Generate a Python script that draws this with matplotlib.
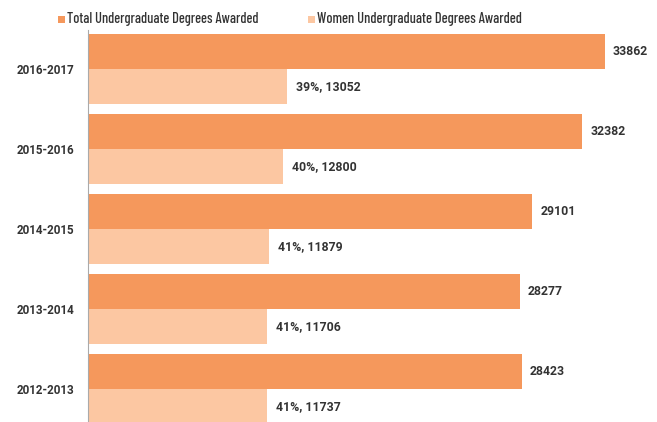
import matplotlib
matplotlib.use("Agg")
import matplotlib.pyplot as plt
from matplotlib.patches import Rectangle

years = ["2012-2013", "2013-2014", "2014-2015", "2015-2016", "2016-2017"]
total = [28423, 28277, 29101, 32382, 33862]
women = [11737, 11706, 11879, 12800, 13052]
women_pct = ["41%", "41%", "41%", "40%", "39%"]
legend_labels = ["Total Undergraduate Degrees Awarded", "Women Undergraduate Degrees Awarded"]

c_total = "#F5985C"
c_women = "#FCC7A2"
tc = "#333333"

plt.rcParams["font.family"] = ["Roboto", "Liberation Sans", "DejaVu Sans"]
leg_family = ["Barlow Condensed", "Liberation Sans", "DejaVu Sans"]

W, H = 657, 422
fig = plt.figure(figsize=(W / 100, H / 100), dpi=100)
ax = fig.add_axes([88 / W, 0, (W - 88) / W, 392 / H])
renderer = fig.canvas.get_renderer()

def fit(t, target):
    wpx = t.get_window_extent(renderer).width
    t.set_fontsize(t.get_fontsize() * target / wpx)

h = 0.4375
ys = list(range(len(years)))
ax.barh([y + h / 2 for y in ys], total, height=h, color=c_total, linewidth=0)
ax.barh([y - h / 2 for y in ys], women, height=h, color=c_women, linewidth=0)

px = 33862 / 517.0
ax.set_xlim(0, (W - 88) * px)
ax.set_ylim(-0.4125, 4.4875)

ref_a = ax.text(0, 0, "33862", fontsize=9, fontweight=600)
fit(ref_a, 35)
fs_val = ref_a.get_fontsize()
ref_a.remove()
ref_b = ax.text(0, 0, "2016-2017", fontsize=9, fontweight=600)
fit(ref_b, 58)
fs_year = ref_b.get_fontsize()
ref_b.remove()

for y, t, w, p in zip(ys, total, women, women_pct):
    ax.text(t + 8 * px, y + h / 2, f"{t}", va="center", ha="left", fontsize=fs_val, color=tc, fontweight=600)
    ax.text(w + 9 * px, y - h / 2, f"{p}, {w}", va="center", ha="left", fontsize=fs_val, color=tc, fontweight=600)

ax.set_yticks(ys)
ax.set_yticklabels(years, fontsize=fs_year, color=tc, fontweight=600)
ax.tick_params(axis="y", length=0, pad=10)
ax.set_xticks([])
for s in ["top", "right", "bottom"]:
    ax.spines[s].set_visible(False)
ax.spines["left"].set_color("#aaaaaa")
ax.spines["left"].set_linewidth(0.8)

# legend
for xs, lab, col, target in [(58, legend_labels[0], c_total, 192), (308, legend_labels[1], c_women, 205)]:
    fig.patches.append(Rectangle((xs / W, 1 - 23 / H), 7 / W, 7 / H, transform=fig.transFigure,
                                 color=col, linewidth=0))
    t = fig.text((xs + 9) / W, 1 - 19 / H, lab, fontsize=10, color=tc, va="center", ha="left",
                 fontweight=500, family=leg_family)
    fit(t, target)

fig.savefig("out.png", dpi=100)
